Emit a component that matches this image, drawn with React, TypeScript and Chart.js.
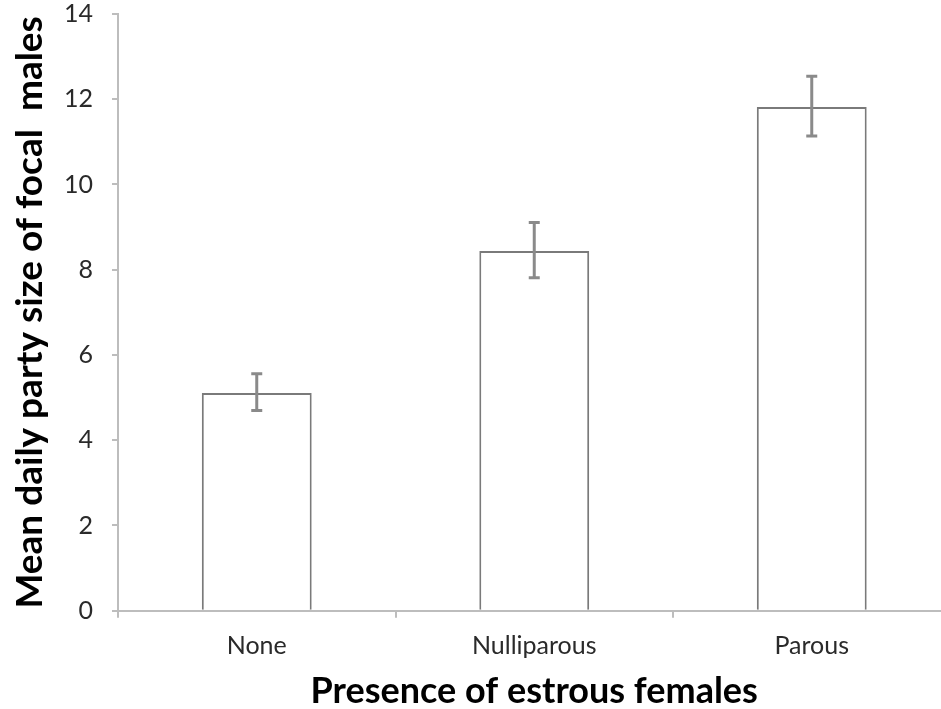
import React, { useEffect, useRef } from "react";
import { Chart, registerables } from "chart.js";

Chart.register(...registerables);

const categories = ["None", "Nulliparous", "Parous"];
const meanValues = [5.11, 8.44, 11.82];
const errLow = [4.7, 7.81, 11.14];
const errHigh = [5.56, 9.11, 12.54];
const yTicks = [0, 2, 4, 6, 8, 10, 12, 14];

const CANVAS_W = 965;
const CANVAS_H = 709;
const FONT = "Lato, 'Open Sans', sans-serif";

const errorBarPlugin = {
  id: "errorBars",
  afterDatasetsDraw(chart: any) {
    const meta = chart.getDatasetMeta(0);
    const y = chart.scales.y;
    const ctx = chart.ctx;
    ctx.save();
    ctx.strokeStyle = "#8a8a8a";
    ctx.lineWidth = 3;
    meta.data.forEach((bar: any, i: number) => {
      const x = bar.x;
      const yH = y.getPixelForValue(errHigh[i]);
      const yL = y.getPixelForValue(errLow[i]);
      ctx.beginPath();
      ctx.moveTo(x, yH);
      ctx.lineTo(x, yL);
      ctx.moveTo(x - 5.5, yH);
      ctx.lineTo(x + 5.5, yH);
      ctx.moveTo(x - 5.5, yL);
      ctx.lineTo(x + 5.5, yL);
      ctx.stroke();
    });
    ctx.restore();
  },
};

export default function App() {
  const ref = useRef<HTMLCanvasElement | null>(null);
  useEffect(() => {
    if (!ref.current) return;
    const chart = new Chart(ref.current, {
      type: "bar",
      data: {
        labels: categories,
        datasets: [
          {
            data: meanValues,
            backgroundColor: "#ffffff",
            borderColor: "#7a7a7a",
            borderWidth: 2,
            categoryPercentage: 1,
            barPercentage: 0.396,
          },
        ],
      },
      options: {
        animation: false,
        responsive: false,
        devicePixelRatio: 1,
        layout: { padding: { top: 14, left: 0, right: CANVAS_W - 950.5, bottom: 0 } },
        plugins: { legend: { display: false }, tooltip: { enabled: false } },
        scales: {
          x: {
            grid: {
              offset: true,
              drawOnChartArea: false,
              drawTicks: true,
              tickLength: 7,
              color: "#bdbdbd",
              lineWidth: 2,
            },
            border: { display: true, color: "#bdbdbd", width: 2 },
            ticks: {
              color: "#2a2a2a",
              font: { family: FONT, size: 25 },
              padding: 13,
            },
            title: {
              display: true,
              text: "Presence of estrous females",
              color: "#000000",
              font: { family: FONT, size: 36, weight: "bold", lineHeight: 1 },
              padding: { top: 0, bottom: 0 },
            },
            afterFit(scale: any) {
              scale.height = CANVAS_H - 610.7;
              scale.paddingLeft = 0;
              scale.paddingRight = 0;
            },
          },
          y: {
            min: 0,
            max: 14,
            afterBuildTicks(scale: any) {
              scale.ticks = yTicks.map((v) => ({ value: v }));
            },
            grid: {
              drawOnChartArea: false,
              drawTicks: true,
              tickLength: 6,
              color: "#bdbdbd",
              lineWidth: 2,
            },
            border: { display: true, color: "#bdbdbd", width: 2 },
            ticks: {
              color: "#2a2a2a",
              font: { family: FONT, size: 25 },
              padding: 19,
            },
            title: {
              display: true,
              text: "Mean daily party size of focal  males",
              color: "#000000",
              font: { family: FONT, size: 37, weight: "bold", lineHeight: 1 },
              padding: { top: 12, bottom: 0 },
            },
            afterFit(scale: any) {
              scale.width = 118;
              scale.paddingTop = 0;
              scale.paddingBottom = 0;
            },
          },
        },
      },
      plugins: [errorBarPlugin],
    });
    return () => chart.destroy();
  }, []);
  return (
    <div
      style={{
        position: "fixed",
        left: 0,
        top: 0,
        width: 941,
        height: 709,
        overflow: "hidden",
        background: "#ffffff",
      }}
    >
      <canvas ref={ref} width={CANVAS_W} height={CANVAS_H} style={{ display: "block" }} />
    </div>
  );
}
